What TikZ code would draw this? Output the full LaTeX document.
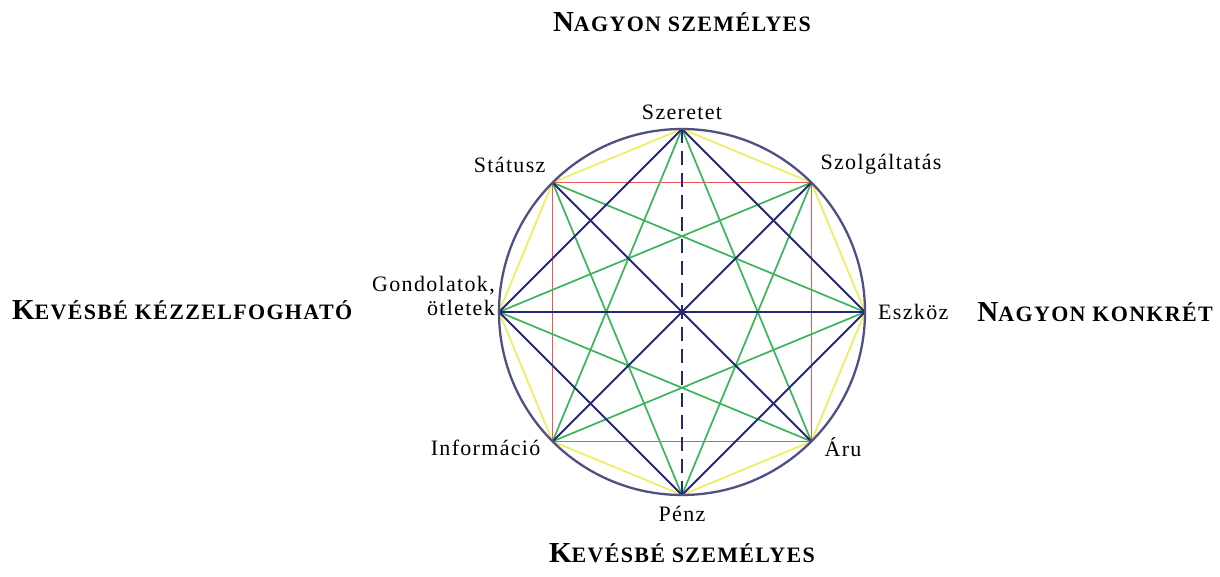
\documentclass[tikz,border=0pt]{standalone}
\usepackage{fontspec}
\setmainfont{Liberation Serif}[LetterSpace=6]
\usetikzlibrary{positioning}

\definecolor{korkek}{RGB}{80,80,130}
\definecolor{sotetkek}{RGB}{40,40,120}
\definecolor{zold}{RGB}{60,180,90}
\definecolor{piros}{RGB}{238,85,85}
\definecolor{sarga}{RGB}{238,238,100}

% nagy kezdobetu + kiskapitalis folytatas
\newcommand{\kiskap}[2]{{\fontsize{29}{29}\selectfont #1}{\fontsize{22}{22}\selectfont #2}}

\begin{document}
\begin{tikzpicture}[x=1pt, y=1pt, node distance=4pt,
  cimke/.style={font=\fontsize{22}{24}\selectfont, inner sep=1pt},
  cim/.style={font=\bfseries, inner sep=0pt}]
  \useasboundingbox (-682,-265) rectangle (538,312);

  % nyolc pont a korvonalon, p0 fent, orajarasi iranyban
  \foreach \i in {0,...,7}
    \coordinate (p\i) at ({90-45*\i}:183);

  % sokszog
  \foreach \i [evaluate=\i as \j using {int(mod(\i+1,8))}] in {0,...,7}
    \draw[sarga, line width=1.8pt] (p\i) -- (p\j);
  \draw[piros, line width=1.7pt] (p1) -- (p3) -- (p5) -- (p7) -- cycle;
  \foreach \i [evaluate=\i as \j using {int(mod(\i+3,8))}] in {0,...,7}
    \draw[zold, line width=1.7pt] (p\i) -- (p\j);
  \draw[sotetkek, line width=2pt] (p0) -- (p2) -- (p4) -- (p6) -- cycle;
  \draw[sotetkek, line width=2pt] (p6) -- (p2);
  \draw[sotetkek, line width=2pt] (p7) -- (p3);
  \draw[sotetkek, line width=2pt] (p1) -- (p5);
  \draw[sotetkek, line width=2pt, dash pattern=on 14pt off 8pt] (p0) -- (p4);
  \draw[korkek, line width=2.3pt] (0,0) circle (183);

  % cimkek
  \node[cimke, above=8pt of p0] (szeretet) {Szeretet};
  \node[cimke, anchor=south east] (statusz) at ([xshift=-6pt, yshift=9pt]p7) {Státusz};
  \node[cimke, anchor=south west] (szolg) at ([xshift=8pt, yshift=7pt]p1) {Szolgáltatás};
  \node[cimke, align=right, anchor=east] (gondolat) at ([xshift=-3pt, yshift=16pt]p6)
    {Gondolatok,\\ötletek};
  \node[cimke, right=12pt of p2] (eszkoz) {Eszköz};
  \node[cimke, anchor=east] (info) at ([xshift=-11pt, yshift=-6pt]p5) {Információ};
  \node[cimke, anchor=west] (aru) at ([xshift=12pt, yshift=-6pt]p3) {Áru};
  \node[cimke, below=10pt of p4] (penz) {Pénz};

  % tengelyek cimei
  \node[cim] (szemfent) at (0,290) {\kiskap{N}{AGYON SZEMÉLYES}};
  \node[cim] (szemlent) at (0,-241) {\kiskap{K}{EVÉSBÉ SZEMÉLYES}};
  \node[cim, anchor=west] (kezzel) at (-670,2) {\kiskap{K}{EVÉSBÉ KÉZZELFOGHATÓ}};
  \node[cim, anchor=east] (konkret) at (531,0) {\kiskap{N}{AGYON KONKRÉT}};
\end{tikzpicture}
\end{document}
